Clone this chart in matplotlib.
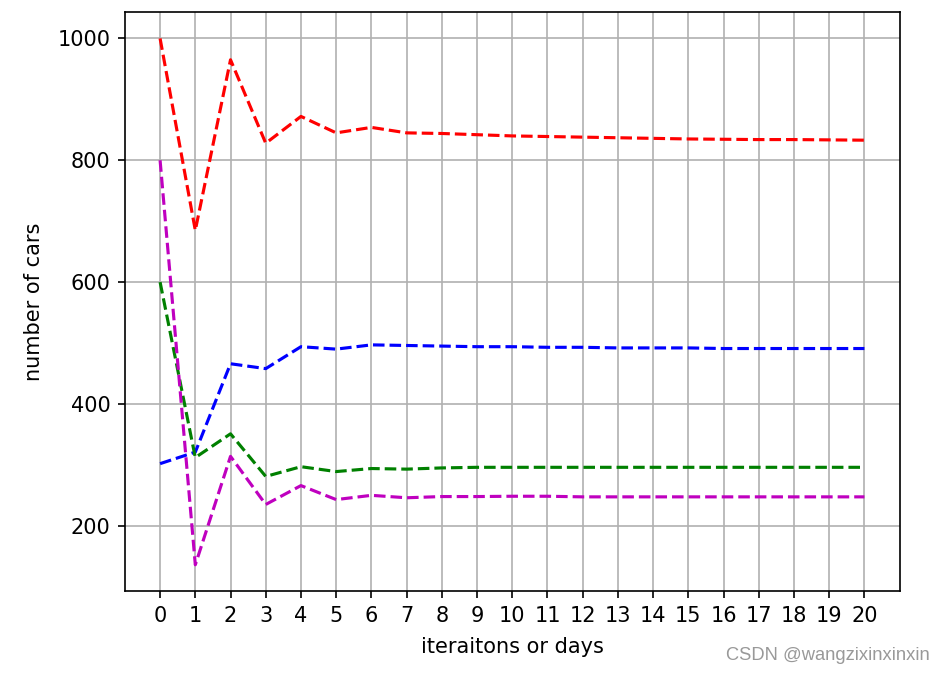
import numpy as np
import matplotlib.pyplot as plt

# iterations 0..20
days = list(range(21))

# values
red_cars = [1000, 685, 965, 828, 872, 845, 854, 845, 844, 842, 840, 839, 838, 837,
            836, 835, 834.5, 834, 834, 833.5, 833]
blue_cars = [302, 321, 466, 458, 494, 490, 497, 496, 495, 494, 494, 493, 493, 492,
             492, 492, 491, 491, 491, 491, 491]
green_cars = [600, 312, 351, 281, 297, 289, 294, 293, 295, 296, 296, 296, 296, 296,
              296, 296, 296, 296, 296, 296, 296]
magenta_cars = [800, 136, 314, 235, 266, 243, 250, 246, 248, 248, 248.5, 248.5, 247.5, 247.5,
                247.5, 247.5, 247.5, 247.5, 247.5, 247.5, 247.5]

DPI = 150
fig = plt.figure(figsize=(946 / DPI, 674 / DPI), dpi=DPI)
ax = fig.add_axes([0.132, 0.123, 0.819, 0.859])

ax.plot(days, red_cars, 'r--')
ax.plot(days, blue_cars, 'b--')
ax.plot(days, green_cars, 'g--')
ax.plot(days, magenta_cars, 'm--')

ax.set_xticks(days)
ax.set_yticks([200, 400, 600, 800, 1000])
ax.set_xlabel("iteraitons or days", labelpad=5.5)
ax.set_ylabel("number of cars", labelpad=6.5)
ax.grid(True)

fig.text(0.983, 0.028, "CSDN @wangzixinxinxin", ha="right", va="center",
         fontsize=8.8, color="#999999", family="Liberation Sans")

fig.savefig("out.png", dpi=DPI)
